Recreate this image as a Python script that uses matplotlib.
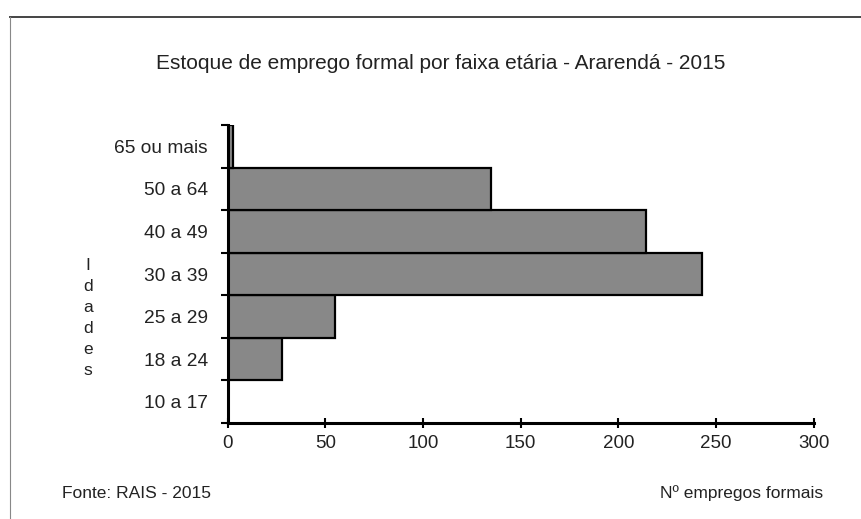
import matplotlib
matplotlib.use("Agg")
import matplotlib.pyplot as plt
from matplotlib.lines import Line2D

plt.rcParams['font.family'] = ['Liberation Sans', 'DejaVu Sans']

categories = ["10 a 17", "18 a 24", "25 a 29", "30 a 39", "40 a 49", "50 a 64", "65 ou mais"]
values = [0, 28, 55, 243, 214, 135, 3]
xticks = [0, 50, 100, 150, 200, 250, 300]

title = "Estoque de emprego formal por faixa etária - Ararendá - 2015"
ylabel = "Idades"
source = "Fonte: RAIS - 2015"
xlabel = "Nº empregos formais"

fig = plt.figure(figsize=(8.62, 5.19), dpi=100)
ax = fig.add_axes([0.264, 0.185, 0.680, 0.574])

pos = list(range(len(categories)))
ax.barh(pos, values, height=1.0, color="#888888", edgecolor="black", linewidth=1.6)

ax.set_xlim(0, 300)
ax.set_ylim(-0.5, len(categories) - 0.5)
ax.set_xticks(xticks)
ax.set_xticklabels([str(t) for t in xticks], fontsize=13.5, color="#222222")
ax.tick_params(axis='x', direction='inout', length=7, width=1.5, pad=5)

ax.set_yticks([p - 0.5 for p in pos] + [len(categories) - 0.5])
ax.set_yticklabels([])
ax.tick_params(axis='y', which='major', direction='out', length=5, width=1.5)
ax.set_yticks(pos, minor=True)
ax.set_yticklabels(categories, minor=True, fontsize=13.8, color="#222222")
ax.tick_params(axis='y', which='minor', length=0, pad=14)

for s in ["top", "right"]:
    ax.spines[s].set_visible(False)
for s in ["left", "bottom"]:
    ax.spines[s].set_linewidth(2.2)

fig.text(0.511, 0.878, title, ha="center", va="center", fontsize=15, color="#222222")
fig.text(0.102, 0.387, "\n".join(ylabel), ha="center", va="center", fontsize=12.5,
         color="#222222", linespacing=1.5)
fig.text(0.072, 0.050, source, ha="left", va="center", fontsize=12.5, color="#222222")
fig.text(0.955, 0.050, xlabel, ha="right", va="center", fontsize=12.5, color="#222222")

# scanned frame lines
fig.add_artist(Line2D([0.012, 1.0], [0.967, 0.967], transform=fig.transFigure,
                      color="#444444", linewidth=1.4))
fig.add_artist(Line2D([0.012, 0.012], [0.0, 0.967], transform=fig.transFigure,
                      color="#888888", linewidth=0.8))

fig.savefig("out.png", dpi=100)
